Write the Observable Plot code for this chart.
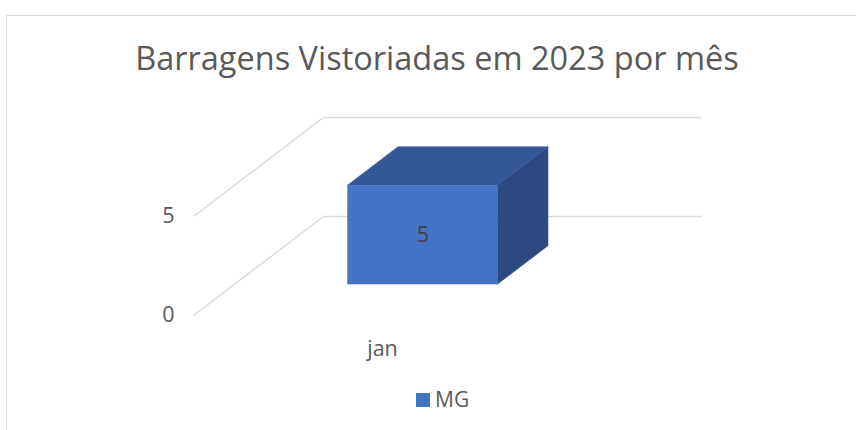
<!DOCTYPE html>
<html>
<head>
<meta charset="utf-8">
<script src="https://cdn.jsdelivr.net/npm/d3@7"></script>
<script src="https://cdn.jsdelivr.net/npm/@observablehq/plot@0.6"></script>
<style>
  html, body { margin: 0; padding: 0; background: #fff; width: 856px; height: 430px; overflow: hidden; }
  body { position: relative; font-family: "Open Sans", sans-serif; color: #595959; }
  #frame { position: absolute; left: 6px; top: 15px; width: 900px; height: 500px;
           border-top: 1.5px solid #d9d9d9; border-left: 1.5px solid #d9d9d9; }
  #title { position: absolute; left: 0; width: 874px; top: 42px; text-align: center;
           font-size: 32.5px; line-height: 32.5px; white-space: nowrap; }
  #chart { position: absolute; left: 0; top: 90px; }
  #legend { position: absolute; left: 416px; top: 389px; display: flex; align-items: center;
            font-size: 21px; line-height: 21px; }
  #legend .sw { width: 14px; height: 14px; margin-right: 5px; }
</style>
</head>
<body>
<div id="frame"></div>
<div id="title">Barragens Vistoriadas em 2023 por mês</div>
<div id="chart"></div>
<div id="legend"></div>
<script>
// ---- data ----
const months = ["jan"];
const seriesName = "MG";
const mgValues = [5];
const yTicks = [0, 5];

// ---- styling / projection constants ----
const frontColor = "#4472C4";
const topColor = "#335895";
const sideColor = "#2C4A7F";
const gridColor = "#d9d9d9";
const depthX = 130 / 378;   // depth vector expressed in x-data units (one category = 1)
const depthY = 5.0;         // depth vector expressed in y-data units
const f0 = 0.31, f1 = 0.70; // bar front / back depth fractions
const barW = 150 / 378;     // bar width in category units

const rows = months.map((m, i) => ({i, month: m, value: mgValues[i]}));

// faces
const frontFaces = rows.map(d => ({
  x1: d.i - barW / 2 + f0 * depthX, x2: d.i + barW / 2 + f0 * depthX,
  y1: f0 * depthY, y2: d.value + f0 * depthY
}));
const topFaces = rows.flatMap(d => [f0, f1].map(f => ({
  key: d.i, y: d.value + f * depthY,
  x1: d.i - barW / 2 + f * depthX, x2: d.i + barW / 2 + f * depthX
})));
const sideFaces = rows.flatMap(d => [f0, f1].map(f => ({
  key: d.i, x: d.i + barW / 2 + f * depthX,
  y1: f * depthY, y2: d.value + f * depthY
})));
const backGrid = yTicks.map(v => ({x1: -0.5 + depthX, x2: months.length - 0.5 + depthX, y1: v + depthY, y2: v + depthY}));
const sideGrid = yTicks.map(v => ({x1: -0.5, x2: -0.5 + depthX, y1: v, y2: v + depthY}));

const chart = Plot.plot({
  width: 856,
  height: 290,
  marginLeft: 193,
  marginRight: 285,
  marginTop: 126,
  marginBottom: 65,
  style: {fontFamily: "Open Sans, sans-serif", fontSize: "21.5px", color: "#595959", background: "transparent"},
  x: {type: "linear", domain: [-0.5, months.length - 0.5]},
  y: {type: "linear", domain: [0, 5]},
  marks: [
    Plot.link(backGrid, {x1: "x1", x2: "x2", y1: "y1", y2: "y2", stroke: gridColor, strokeWidth: 1.3}),
    Plot.link(sideGrid, {x1: "x1", x2: "x2", y1: "y1", y2: "y2", stroke: gridColor, strokeWidth: 1.3}),
    Plot.areaY(sideFaces, {x: "x", y1: "y1", y2: "y2", z: "key", fill: sideColor, stroke: sideColor, strokeWidth: 0.5, curve: "linear"}),
    Plot.areaX(topFaces, {y: "y", x1: "x1", x2: "x2", z: "key", fill: topColor, stroke: topColor, strokeWidth: 0.5, curve: "linear"}),
    Plot.rect(frontFaces, {x1: "x1", x2: "x2", y1: "y1", y2: "y2", fill: frontColor}),
    Plot.text(rows, {x: d => d.i + f0 * depthX, y: d => d.value / 2 + f0 * depthY, text: d => String(d.value), fill: "#404040", fontSize: 21.5}),
    Plot.axisY({ticks: yTicks, tickFormat: d => String(d), tickSize: 0, tickPadding: 19, label: null, fill: "#595959"}),
    Plot.axisX({ticks: months.map((m, i) => i), tickFormat: i => months[i], tickSize: 0, tickPadding: 25, label: null, fill: "#595959"})
  ]
});
document.getElementById("chart").appendChild(chart);

const leg = document.getElementById("legend");
const sw = document.createElement("div");
sw.className = "sw"; sw.style.background = frontColor;
const lt = document.createElement("span");
lt.textContent = seriesName;
leg.appendChild(sw); leg.appendChild(lt);
</script>
</body>
</html>
